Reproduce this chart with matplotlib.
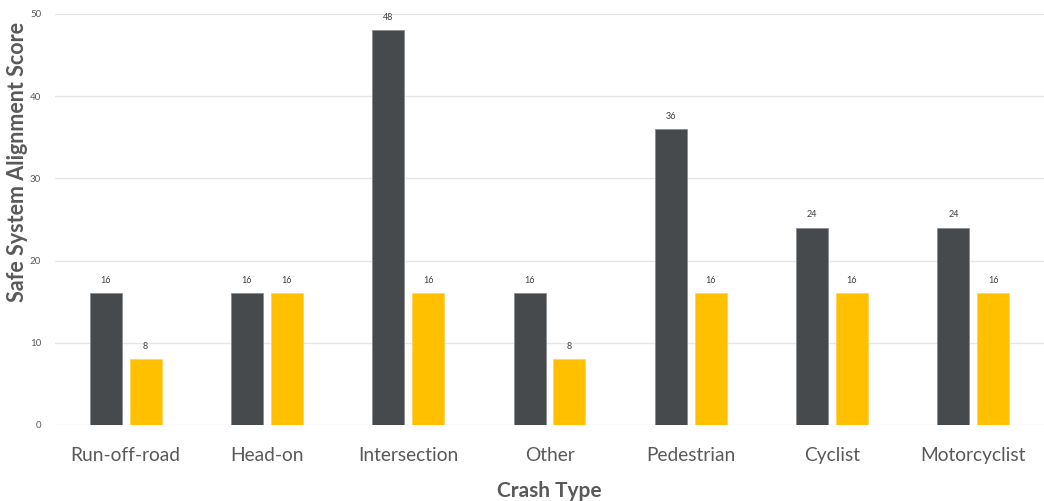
import numpy as np
import matplotlib.pyplot as plt

categories = ["Run-off-road", "Head-on", "Intersection", "Other", "Pedestrian", "Cyclist", "Motorcyclist"]
series_dark = [16, 16, 48, 16, 36, 24, 24]
series_yellow = [8, 16, 16, 8, 16, 16, 16]
yticks = [0, 10, 20, 30, 40, 50]

plt.rcParams['font.family'] = ['Lato', 'DejaVu Sans']

fig = plt.figure(figsize=(10.44, 5.01), dpi=100)
ax = fig.add_axes([55 / 1044, 1 - 425 / 501, 1 - 55 / 1044, (425 - 14) / 501])

x = np.arange(len(categories))
w = 0.226
off = 0.141
b1 = ax.bar(x - off, series_dark, w, color="#464A4D", edgecolor="#8a8d90", linewidth=0.6, zorder=3)
b2 = ax.bar(x + off, series_yellow, w, color="#FFC000", edgecolor="#ffd45a", linewidth=0.6, zorder=3)

for bars, vals in [(b1, series_dark), (b2, series_yellow)]:
    for r, v in zip(bars, vals):
        ax.annotate(str(v), (r.get_x() + r.get_width() / 2, v), xytext=(0, 6),
                    textcoords="offset points", ha="center", va="bottom",
                    fontsize=6.5, color="#404040")

ax.set_xlim(-0.5, len(categories) - 0.5)
ax.set_ylim(0, 50)
ax.set_yticks(yticks)
ax.set_yticklabels([str(t) for t in yticks], fontsize=7, color="#595959")
ax.set_xticks(x)
ax.set_xticklabels(categories, fontsize=13.8, color="#595959")
ax.tick_params(axis="both", length=0)
ax.tick_params(axis="x", pad=16)
ax.tick_params(axis="y", pad=10)
ax.grid(axis="y", color="#e6e6e6", linewidth=1, zorder=0)
for s in ax.spines.values():
    s.set_visible(False)

ax.set_ylabel("Safe System Alignment Score", fontsize=15.5, fontweight="bold", color="#595959")
ax.yaxis.set_label_coords(-0.027, 0.64)
ax.set_xlabel("Crash Type", fontsize=15, fontweight="bold", color="#595959", labelpad=12)

fig.savefig("out.png", dpi=100)
